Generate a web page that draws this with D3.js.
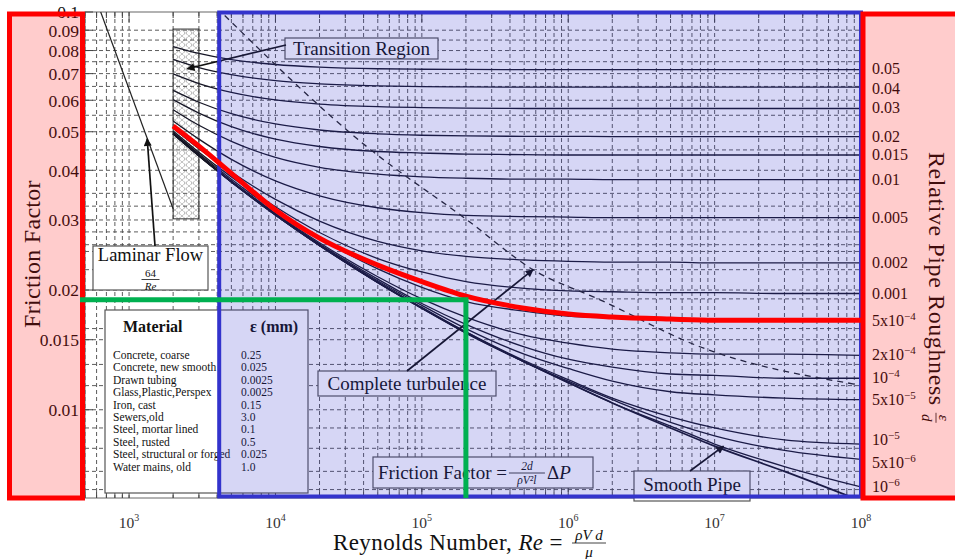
<!DOCTYPE html>
<html><head><meta charset="utf-8">
<script src="https://cdn.jsdelivr.net/npm/d3@7/dist/d3.min.js"></script>
<style>
html,body{margin:0;padding:0;background:#fff;}
svg{display:block;}
text{font-family:"Liberation Serif","DejaVu Serif",serif;}
</style></head><body>
<svg id="chart" width="955" height="559"></svg>
<script>
// ---------------- data ----------------
const reGrid=[2e3,3e3,5e3,1e4,2e4,5e4,1e5,2e5,5e5,1e6,2e6,5e6,1e7,3e7,1e8];
const f_0_05 =[0.0819,0.0787,0.0759,0.0738,0.0727,0.0720,0.0718,0.0717,0.0716,0.0716,0.0716,0.0716,0.0716,0.0716,0.0716];
const f_0_04 =[0.0760,0.0725,0.0696,0.0672,0.0660,0.0652,0.0649,0.0648,0.0647,0.0647,0.0647,0.0647,0.0647,0.0647,0.0647];
const f_0_03 =[0.0699,0.0661,0.0628,0.0601,0.0587,0.0578,0.0575,0.0573,0.0572,0.0572,0.0572,0.0572,0.0572,0.0572,0.0572];
const f_0_02 =[0.0635,0.0593,0.0555,0.0523,0.0505,0.0494,0.0490,0.0488,0.0487,0.0487,0.0486,0.0486,0.0486,0.0486,0.0486];
const f_0_015=[0.0602,0.0557,0.0515,0.0479,0.0459,0.0446,0.0442,0.0439,0.0438,0.0437,0.0437,0.0437,0.0437,0.0437,0.0437];
const f_0_01 =[0.0568,0.0519,0.0473,0.0431,0.0407,0.0391,0.0385,0.0382,0.0380,0.0380,0.0379,0.0379,0.0379,0.0379,0.0379];
const f_0_005=[0.0532,0.0479,0.0426,0.0376,0.0345,0.0322,0.0313,0.0308,0.0306,0.0305,0.0304,0.0304,0.0304,0.0304,0.0304];
const f_0_002=[0.0510,0.0453,0.0396,0.0338,0.0298,0.0265,0.0251,0.0243,0.0238,0.0236,0.0235,0.0235,0.0234,0.0234,0.0234];
const f_0_001=[0.0502,0.0444,0.0385,0.0324,0.0279,0.0240,0.0222,0.0210,0.0202,0.0199,0.0198,0.0197,0.0197,0.0196,0.0196];
const f_5e_4 =[0.0498,0.0440,0.0380,0.0316,0.0270,0.0226,0.0203,0.0187,0.0177,0.0172,0.0170,0.0168,0.0168,0.0167,0.0167];
const f_2e_4 =[0.0496,0.0437,0.0376,0.0312,0.0263,0.0216,0.0190,0.0171,0.0154,0.0147,0.0142,0.0139,0.0138,0.0138,0.0137];
const f_1e_4 =[0.0495,0.0436,0.0375,0.0310,0.0261,0.0213,0.0185,0.0164,0.0144,0.0134,0.0128,0.0123,0.0122,0.0120,0.0120];
const f_5e_5 =[0.0495,0.0436,0.0375,0.0310,0.0260,0.0211,0.0183,0.0160,0.0138,0.0127,0.0118,0.0111,0.0109,0.0107,0.0106];
const f_1e_5 =[0.0494,0.0435,0.0374,0.0309,0.0259,0.0209,0.0181,0.0157,0.0133,0.0119,0.0107,0.0096,0.0090,0.0084,0.0082];
const f_5e_6 =[0.0494,0.0435,0.0374,0.0309,0.0259,0.0209,0.0180,0.0157,0.0132,0.0118,0.0106,0.0093,0.0086,0.0079,0.0075];
const f_1e_6 =[0.0494,0.0435,0.0374,0.0309,0.0259,0.0209,0.0180,0.0156,0.0132,0.0117,0.0104,0.0091,0.0082,0.0072,0.0064];
const smoothF=[0.0494,0.0435,0.0374,0.0309,0.0259,0.0209,0.0180,0.0156,0.0132,0.0117,0.0104,0.0090,0.0081,0.0070,0.0059];
const highlightF=[0.0517,0.0460,0.0393,0.0318,0.0270,0.0231,0.0210,0.0193,0.0180,0.0174,0.0171,0.0169,0.0168,0.0168,0.0168];
const roughSeries=[f_0_05,f_0_04,f_0_03,f_0_02,f_0_015,f_0_01,f_0_005,f_0_002,f_0_001,f_5e_4,f_2e_4,f_1e_4,f_5e_5,f_1e_5,f_5e_6,f_1e_6];
const roughLabelBase=["0.05","0.04","0.03","0.02","0.015","0.01","0.005","0.002","0.001","5x10","2x10","10","5x10","10","5x10","10"];
const roughLabelSup =["","","","","","","","","","\u22124","\u22124","\u22124","\u22125","\u22125","\u22126","\u22126"];
const laminarRe=[640,2000];
const laminarF=[0.1,0.032];
const transRe=[2000,3000];
const transF=[0.0302,0.0906];
const boundaryRe=[4500,42270,2.04e5,5.75e5,1.65e6,7.94e6,9.55e7];
const boundaryF=[0.098,0.0458,0.030,0.0225,0.0189,0.0144,0.01156];
const focusRe=2e5;
const focusF=0.0189;
const blueRe=[4000,1e8];
const yTickVals=[0.1,0.09,0.08,0.07,0.06,0.05,0.04,0.03,0.02,0.015,0.01];
const yTickLabels=["0.1","0.09","0.08","0.07","0.06","0.05","0.04","0.03","0.02","0.015","0.01"];
const hGridF=[0.09,0.085,0.08,0.075,0.07,0.065,0.06,0.055,0.05,0.045,0.04,0.035,0.0325,0.03,0.028,0.026,0.025,0.0225,0.02,0.019,0.016,0.015,0.013,0.0115,0.01,0.009,0.008,0.007,0.0063];
const decadeVals=[1e3,1e4,1e5,1e6,1e7,1e8];
const decadeExps=["3","4","5","6","7","8"];
const materialNames=["Concrete, coarse","Concrete, new smooth","Drawn tubing","Glass,Plastic,Perspex","Iron, cast","Sewers,old","Steel, mortar lined","Steel, rusted","Steel, structural or forged","Water mains, old"];
const materialEps=["0.25","0.025","0.0025","0.0025","0.15","3.0","0.1","0.5","0.025","1.0"];

// ---------------- scales ----------------
const svg=d3.select("#chart");
const x=d3.scaleLog().domain([500,1e8]).range([85,861]);
const y=d3.scaleLog().domain([0.006,0.1]).range([498,12]);
const X0=x.range()[0],X1=x.range()[1],Y0=y.range()[1],Y1=y.range()[0];

const defs=svg.append("defs");
defs.append("clipPath").attr("id","plotclip").append("rect")
  .attr("x",X0).attr("y",Y0).attr("width",X1-X0).attr("height",Y1-Y0);
const pat=defs.append("pattern").attr("id","hatch").attr("width",7).attr("height",6).attr("patternUnits","userSpaceOnUse");
pat.append("path").attr("d","M0.5,0.5L6.5,5.5M6.5,0.5L0.5,5.5").attr("stroke","#555").attr("stroke-width",0.7).attr("stroke-dasharray","1.2,1");
defs.append("marker").attr("id","ah").attr("viewBox","0 0 10 10").attr("refX",9).attr("refY",5)
  .attr("markerWidth",12).attr("markerHeight",8).attr("markerUnits","userSpaceOnUse").attr("orient","auto")
  .append("path").attr("d","M0,0L10,5L0,10z").attr("fill","#111");

svg.append("rect").attr("width",955).attr("height",559).attr("fill","#fff");

// ---------------- grid ----------------
const grid=svg.append("g").attr("clip-path","url(#plotclip)");
const vt=x.ticks();
grid.selectAll("line.v").data(vt).join("line")
  .attr("x1",d=>x(d)).attr("x2",d=>x(d)).attr("y1",Y0).attr("y2",Y1)
  .attr("stroke","#4a4a4a").attr("stroke-width",0.9).attr("stroke-dasharray","4,3");
grid.selectAll("line.h").data(hGridF).join("line")
  .attr("x1",X0).attr("x2",X1).attr("y1",d=>y(d)).attr("y2",d=>y(d))
  .attr("stroke","#4a4a4a").attr("stroke-width",0.9).attr("stroke-dasharray","4,3");

// frame and ticks
svg.append("rect").attr("x",X0).attr("y",Y0).attr("width",X1-X0).attr("height",Y1-Y0)
  .attr("fill","none").attr("stroke","#666").attr("stroke-width",1);
const isDec=d=>Math.abs(Math.log10(d)-Math.round(Math.log10(d)))<1e-9;
svg.append("g").selectAll("line").data(vt).join("line")
  .attr("x1",d=>x(d)).attr("x2",d=>x(d)).attr("y1",Y1).attr("y2",d=>Y1-(isDec(d)?10:6))
  .attr("stroke","#444").attr("stroke-width",1);
svg.append("g").selectAll("line").data(vt).join("line")
  .attr("x1",d=>x(d)).attr("x2",d=>x(d)).attr("y1",Y0).attr("y2",d=>Y0+(isDec(d)?10:6))
  .attr("stroke","#444").attr("stroke-width",1);
svg.append("g").selectAll("line").data(yTickVals).join("line")
  .attr("x1",X0).attr("x2",X0+8).attr("y1",d=>y(d)).attr("y2",d=>y(d))
  .attr("stroke","#444").attr("stroke-width",1);

// y tick labels
svg.append("g").selectAll("text").data(yTickVals).join("text")
  .attr("x",79).attr("y",d=>y(d)).attr("dy","0.36em").attr("text-anchor","end")
  .attr("font-size",17.5).attr("fill","#111").text((d,i)=>yTickLabels[i]);

// x tick labels
decadeVals.forEach((d,i)=>{
  const t=svg.append("text").attr("x",x(d)).attr("y",528).attr("text-anchor","middle")
    .attr("font-size",15.5).attr("fill","#333");
  t.append("tspan").text("10");
  t.append("tspan").attr("dy",-7).attr("font-size",10).text(decadeExps[i]);
});

// ---------------- marks ----------------
const plot=svg.append("g").attr("clip-path","url(#plotclip)");
plot.append("rect").attr("x",x(transRe[0])).attr("y",y(transF[1]))
  .attr("width",x(transRe[1])-x(transRe[0])).attr("height",y(transF[0])-y(transF[1]))
  .attr("fill","url(#hatch)").attr("stroke","#333").attr("stroke-width",1);
plot.append("line").attr("x1",x(laminarRe[0])).attr("y1",y(laminarF[0]))
  .attr("x2",x(laminarRe[1])).attr("y2",y(laminarF[1])).attr("stroke","#222").attr("stroke-width",1.2);
const line=d3.line().x(d=>x(d[0])).y(d=>y(d[1])).curve(d3.curveMonotoneX);
roughSeries.forEach(s=>{
  plot.append("path").attr("d",line(reGrid.map((r,i)=>[r,s[i]])))
    .attr("fill","none").attr("stroke","#161626").attr("stroke-width",1.3);
});
plot.append("path").attr("d",line(reGrid.map((r,i)=>[r,smoothF[i]])))
  .attr("fill","none").attr("stroke","#161626").attr("stroke-width",1.7);
plot.append("path").attr("d",line(boundaryRe.map((r,i)=>[r,boundaryF[i]])))
  .attr("fill","none").attr("stroke","#222").attr("stroke-width",1.3).attr("stroke-dasharray","6,5");

// right labels (under overlay); small layout nudges keep neighbours apart
const labelNudge=i=>({0:-1,1:2,13:-4,14:4})[i]||0;
roughSeries.forEach((s,i)=>{
  const t=svg.append("text").attr("x",872).attr("y",y(s[s.length-1])+5+labelNudge(i))
    .attr("font-size",16).attr("fill","#111");
  t.append("tspan").text(roughLabelBase[i]);
  if(roughLabelSup[i]) t.append("tspan").attr("dy",-6).attr("font-size",11).text(roughLabelSup[i]);
});

// axis titles
function frac(g,cx,axisY,num,den,fs,w,numItalic){
  g.append("text").attr("x",cx).attr("y",axisY-3).attr("text-anchor","middle").attr("font-size",fs)
    .attr("font-style",numItalic===false?"normal":"italic").attr("fill","#111").text(num);
  g.append("line").attr("x1",cx-w/2).attr("x2",cx+w/2).attr("y1",axisY).attr("y2",axisY)
    .attr("stroke","#111").attr("stroke-width",0.8);
  g.append("text").attr("x",cx).attr("y",axisY+fs*0.95).attr("text-anchor","middle").attr("font-size",fs)
    .attr("font-style","italic").attr("fill","#111").text(den);
}
svg.append("text").attr("transform","translate(40,254) rotate(-90)").attr("text-anchor","middle")
  .attr("font-size",24).attr("letter-spacing",0.3).attr("fill","#111").text("Friction Factor");
const rt=svg.append("g").attr("transform","translate(929,152) rotate(90)");
const rtt=rt.append("text").attr("x",0).attr("y",0).attr("font-size",24).attr("letter-spacing",0.6).attr("fill","#111").text("Relative Pipe Roughness");
const rl=rtt.node().getComputedTextLength();
frac(rt,rl+12,-7,"\u03b5","d",15,10);

const xt=svg.append("text").attr("x",333).attr("y",550).attr("font-size",23).attr("letter-spacing",0.4).attr("fill","#111");
xt.append("tspan").text("Reynolds Number, ");
xt.append("tspan").attr("font-style","italic").text("Re");
xt.append("tspan").text(" = ");
const xl=xt.node().getComputedTextLength();
frac(svg,333+xl+26,543,"\u03c1V d","\u03bc",15,34);

// ---------------- annotations ----------------
function box(x0,y0,w,h){
  svg.append("rect").attr("x",x0).attr("y",y0).attr("width",w).attr("height",h)
    .attr("fill","#fff").attr("stroke","#555").attr("stroke-width",1.2);
}
function arrow(x1,y1,x2,y2){
  svg.append("line").attr("x1",x1).attr("y1",y1).attr("x2",x2).attr("y2",y2)
    .attr("stroke","#111").attr("stroke-width",1.7).attr("marker-end","url(#ah)");
}
const AF=19;
box(285,38,153,21);
svg.append("text").attr("x",361.5).attr("y",54.5).attr("text-anchor","middle").attr("font-size",AF).attr("fill","#111").text("Transition Region");
arrow(286,45,x(2500),y(0.072));
box(93,246,115,44);
svg.append("text").attr("x",150.5).attr("y",261).attr("text-anchor","middle").attr("font-size",18.5).attr("fill","#111").text("Laminar Flow");
frac(svg,150.5,279.5,"64","Re",11,18,false);
arrow(155,246,x(1330),y(0.0483)+1);
box(318,371,178,25);
svg.append("text").attr("x",407).attr("y",389.5).attr("text-anchor","middle").attr("font-size",AF).attr("fill","#111").text("Complete turbulence");
arrow(407,371,x(5.75e5),y(0.0225));
box(373,457,220,31);
const ft=svg.append("text").attr("x",378).attr("y",479).attr("font-size",AF).attr("fill","#111");
ft.append("tspan").text("Friction Factor = ");
const fl=ft.node().getComputedTextLength();
frac(svg,378+fl+20,473,"2d","\u03c1V\u00b2l",11.5,36);
const fp=svg.append("text").attr("x",378+fl+40).attr("y",479).attr("font-size",AF).attr("fill","#111");
fp.append("tspan").text("\u0394");
fp.append("tspan").attr("font-style","italic").text("P");
box(634,471,116,30);
svg.append("text").attr("x",692).attr("y",491).attr("text-anchor","middle").attr("font-size",AF).attr("fill","#111").text("Smooth Pipe");
arrow(690,471,x(1.15e7),y(0.0081));

// Material table
box(105,310,203,183);
svg.append("text").attr("x",123).attr("y",332).attr("font-size",16).attr("font-weight","bold").attr("fill","#111").text("Material");
svg.append("text").attr("x",250).attr("y",332).attr("font-size",16).attr("font-weight","bold").attr("fill","#111").text("\u03b5 (mm)");
svg.append("g").selectAll("text").data(materialNames).join("text")
  .attr("x",113).attr("y",(d,i)=>359+i*12.4).attr("font-size",11.5).attr("fill","#111").text(d=>d);
svg.append("g").selectAll("text").data(materialEps).join("text")
  .attr("x",241).attr("y",(d,i)=>359+i*12.4).attr("font-size",11.5).attr("fill","#111").text(d=>d);

// ---------------- overlays ----------------
svg.append("rect").attr("x",9.5).attr("y",14).attr("width",X0-12).attr("height",484)
  .attr("fill","rgba(255,0,0,0.2)").attr("stroke","#ff0000").attr("stroke-width",5);
svg.append("rect").attr("x",x(blueRe[0])+2).attr("y",12.5).attr("width",x(blueRe[1])-x(blueRe[0])-2).attr("height",484)
  .attr("fill","rgba(51,51,204,0.2)").attr("stroke","#3333cc").attr("stroke-width",4);
svg.append("rect").attr("x",X1+2).attr("y",14).attr("width",120).attr("height",484)
  .attr("fill","rgba(255,0,0,0.2)").attr("stroke","#ff0000").attr("stroke-width",5);

svg.append("path").attr("d",line(reGrid.map((r,i)=>[r,highlightF[i]])))
  .attr("fill","none").attr("stroke","#ff0000").attr("stroke-width",5).attr("clip-path","url(#plotclip)");
svg.append("line").attr("x1",80).attr("x2",x(focusRe)+2.5).attr("y1",y(focusF)).attr("y2",y(focusF))
  .attr("stroke","#00b050").attr("stroke-width",5);
svg.append("line").attr("x1",x(focusRe)).attr("x2",x(focusRe)).attr("y1",y(focusF)).attr("y2",Y1)
  .attr("stroke","#00b050").attr("stroke-width",5);
</script></body></html>
